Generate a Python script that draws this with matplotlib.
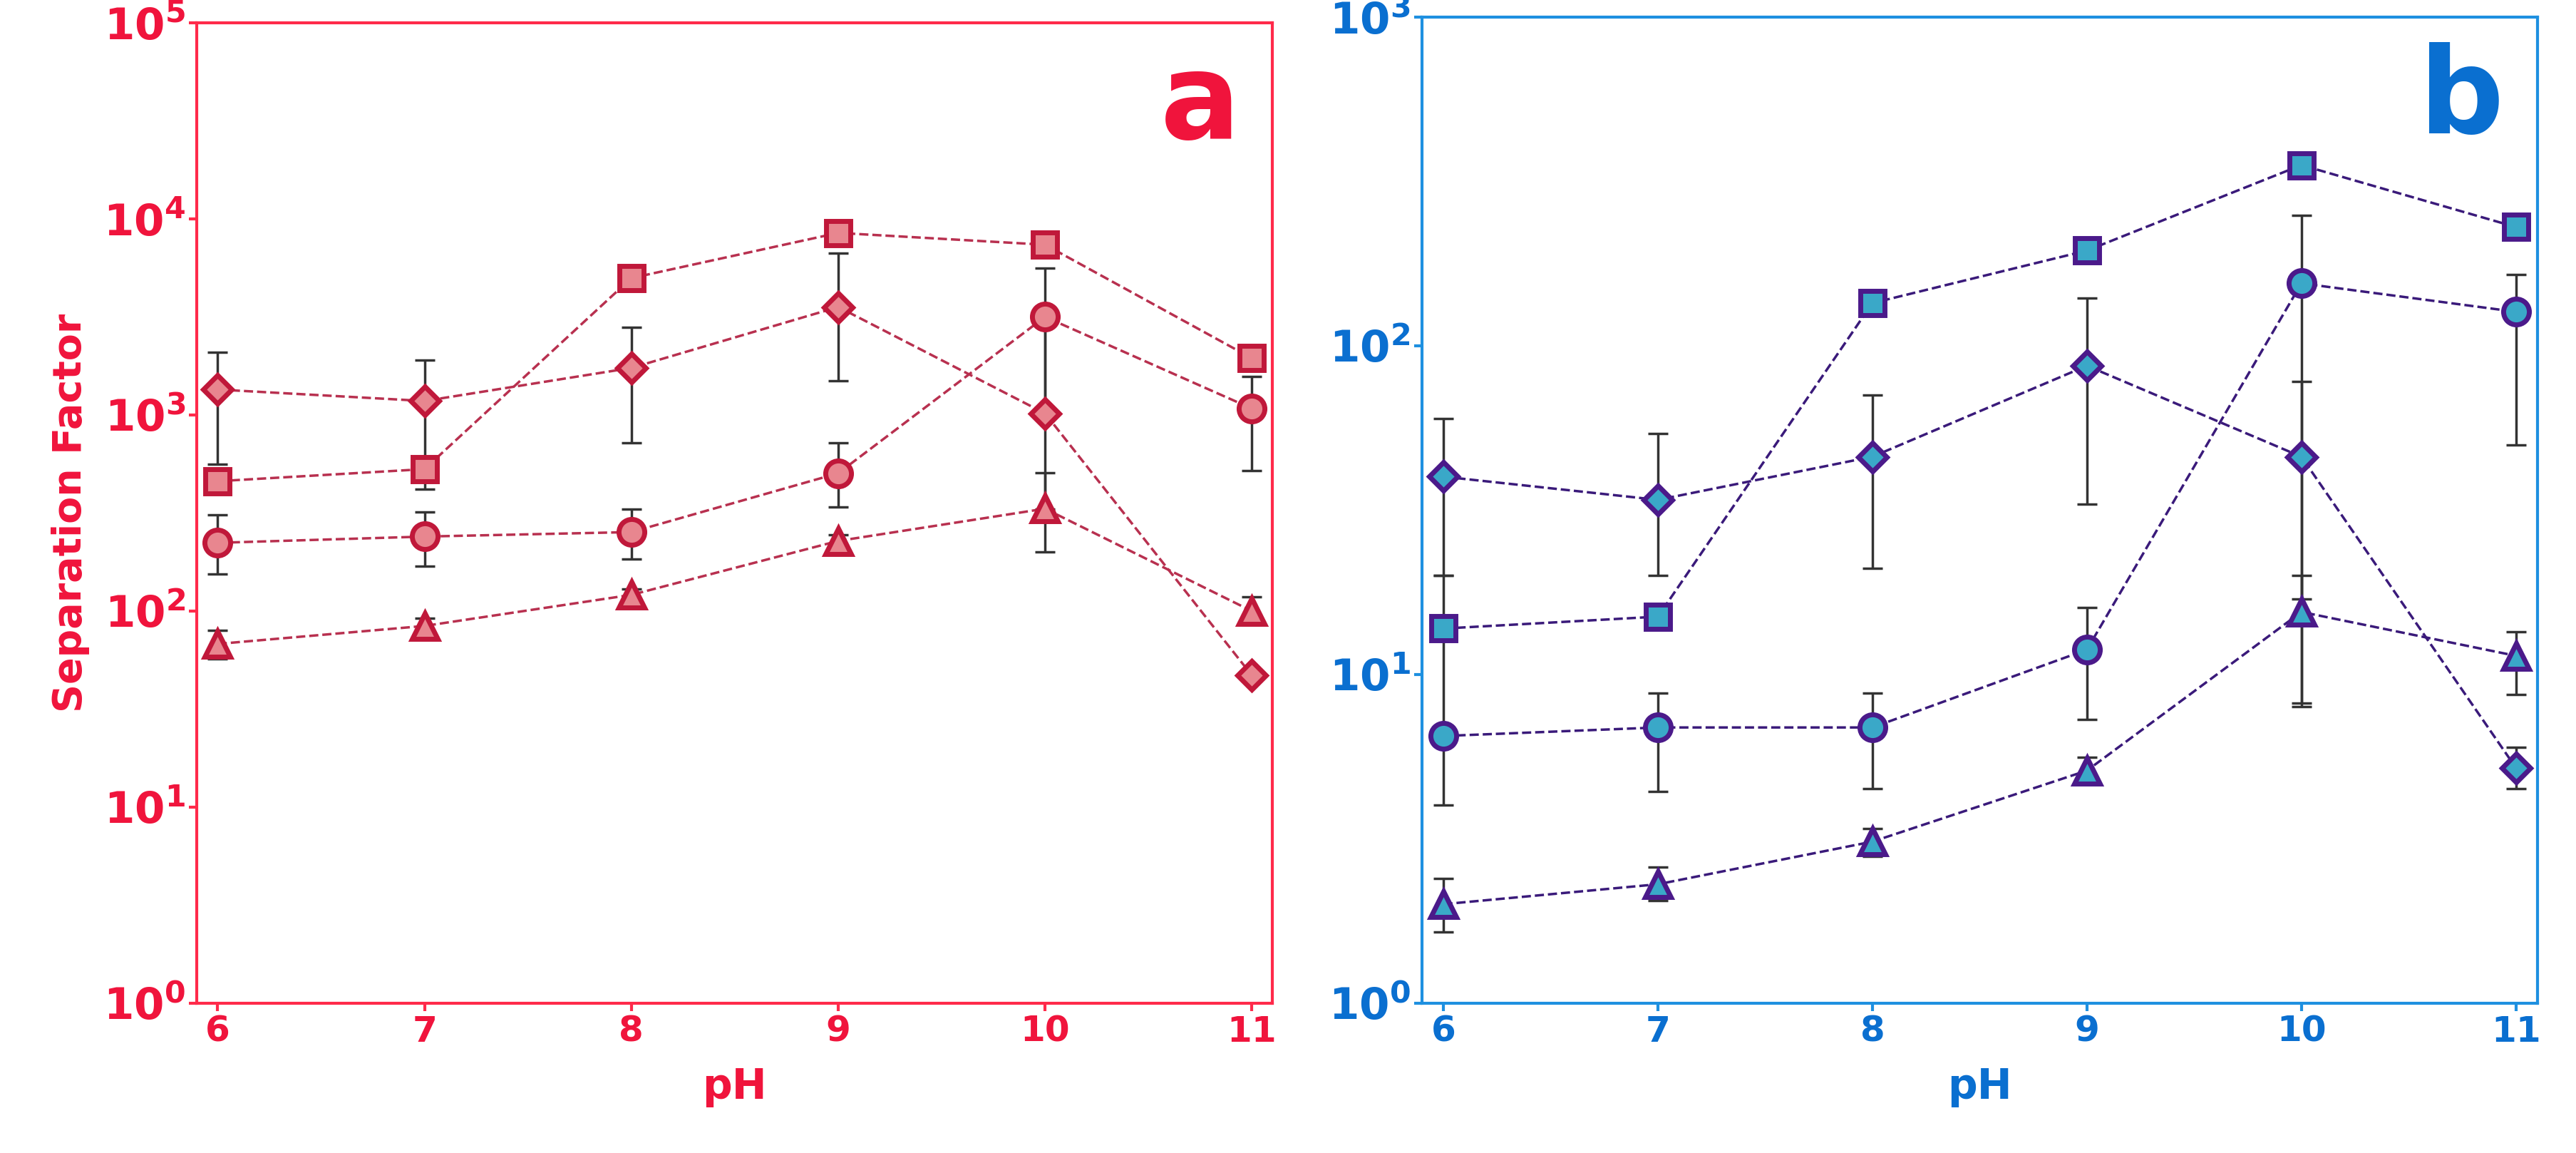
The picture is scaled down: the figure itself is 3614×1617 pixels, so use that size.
import matplotlib
matplotlib.use("Agg")
import matplotlib.pyplot as plt
import numpy as np
from matplotlib.ticker import FixedLocator, NullLocator

ph = [6, 7, 8, 9, 10, 11]

# Panel a values (separation factor)
a_square = [460, 530, 5000, 8500, 7400, 1950]
a_diamond = [1350, 1180, 1740, 3560, 1020, 47]
a_diamond_lo = [560, 420, 720, 1500, 330, 47]
a_diamond_hi = [2100, 1900, 2800, 6700, 3000, 47]
a_circle = [223, 240, 253, 505, 3170, 1080]
a_circle_lo = [155, 170, 185, 340, 1000, 520]
a_circle_hi = [310, 320, 330, 720, 5600, 1580]
a_triangle = [68, 84, 121, 228, 333, 100]
a_triangle_lo = [57, 75, 110, 210, 200, 85]
a_triangle_hi = [80, 92, 130, 245, 510, 118]

# Panel b values
b_square = [13.8, 15, 135, 195, 355, 230]
b_diamond = [40, 34, 46, 87, 46, 5.2]
b_diamond_lo = [20, 20, 21, 33, 17, 4.5]
b_diamond_hi = [60, 54, 71, 140, 78, 6.0]
b_circle = [6.5, 6.9, 6.9, 11.9, 155, 127]
b_circle_lo = [4.0, 4.4, 4.5, 7.3, 8.0, 50]
b_circle_hi = [20, 8.8, 8.8, 16, 250, 165]
b_triangle = [2.0, 2.3, 3.1, 5.1, 15.5, 11.4]
b_triangle_lo = [1.65, 2.05, 2.8, 4.7, 8.2, 8.7]
b_triangle_hi = [2.4, 2.6, 3.4, 5.6, 20, 13.5]

fig = plt.figure(figsize=(36.14, 16.17), dpi=100)
plt.rcParams['font.family'] = ['DejaVu Sans']

def panel(rect, ylim, sq, di, dlo, dhi, ci, clo, chi, tr, tlo, thi,
          face, edge, line, frame, text, letter, ylabel):
    ax = fig.add_axes(rect)
    ax.set_yscale('log')
    ax.set_ylim(*ylim)
    ax.set_xlim(5.9, 11.1)
    for vals, lo, hi in [(di, dlo, dhi), (ci, clo, chi), (tr, tlo, thi)]:
        v = np.array(vals); yerr = [v - np.array(lo), np.array(hi) - v]
        ax.errorbar(ph, v, yerr=yerr, fmt='none', ecolor='#333333', elinewidth=2.5,
                    capsize=10, capthick=2.5, zorder=2)
    for vals, m, ms in [(sq, 's', 24), (di, 'D', 20), (ci, 'o', 26), (tr, '^', 26)]:
        ax.plot(ph, vals, ls='--', color=line, lw=2.5, marker=m, ms=ms,
                mfc=face, mec=edge, mew=5, zorder=3)
    for s in ax.spines.values():
        s.set_color(frame); s.set_linewidth(3)
    ax.xaxis.set_major_locator(FixedLocator(ph))
    ax.set_xticklabels([str(p) for p in ph])
    ax.yaxis.set_minor_locator(NullLocator())
    ax.tick_params(axis='x', colors=frame, labelcolor=text, labelsize=36,
                   width=3, length=8, direction='out')
    ax.tick_params(axis='y', colors=frame, labelcolor=text, labelsize=44,
                   width=3, length=8, direction='out')
    for lab in ax.get_xticklabels() + ax.get_yticklabels():
        lab.set_fontweight('bold')
    ax.set_xlabel('pH', fontsize=42, fontweight='bold', color=text, labelpad=18)
    if ylabel:
        ax.set_ylabel(ylabel, fontsize=40, fontweight='bold', color=text, labelpad=14)
    ax.text(0.97, 0.975, letter, transform=ax.transAxes, ha='right', va='top',
            fontsize=120, fontweight='bold', color=text)
    return ax

panel([0.0765, 0.13, 0.4175, 0.85], (1, 1e5), a_square, a_diamond, a_diamond_lo, a_diamond_hi,
      a_circle, a_circle_lo, a_circle_hi, a_triangle, a_triangle_lo, a_triangle_hi,
      '#e8868f', '#c0183a', '#b8304f', '#ff2a4a', '#f0143c', 'a', 'Separation Factor')
panel([0.552, 0.13, 0.433, 0.855], (1, 1.0e3), b_square, b_diamond, b_diamond_lo, b_diamond_hi,
      b_circle, b_circle_lo, b_circle_hi, b_triangle, b_triangle_lo, b_triangle_hi,
      '#3aa8c8', '#4b1a8a', '#3a1a7a', '#1e90e0', '#0a6fd0', 'b', None)

fig.savefig('out.png', dpi=100)
